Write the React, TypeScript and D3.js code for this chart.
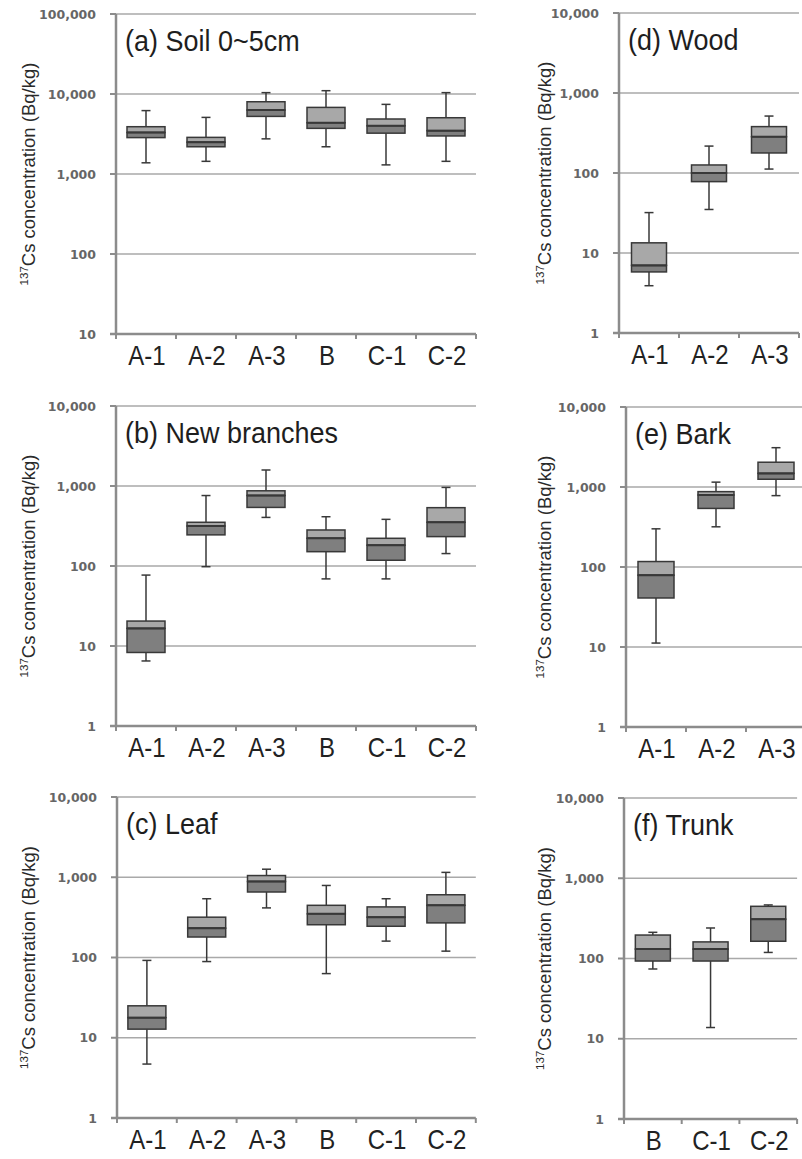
import * as d3 from "d3";

// five-number summaries: [min, q1, median, q3, max]
type Stat = [number, number, number, number, number];

const siteCats = ["A-1", "A-2", "A-3", "B", "C-1", "C-2"];
const woodCats = ["A-1", "A-2", "A-3"];
const trunkCats = ["B", "C-1", "C-2"];

const soil: Stat[] = [
  [1380, 2850, 3300, 3900, 6200],
  [1440, 2190, 2500, 2870, 5100],
  [2750, 5250, 6300, 8000, 10400],
  [2190, 3720, 4370, 6800, 11000],
  [1300, 3240, 4000, 4870, 7420],
  [1440, 2990, 3480, 5050, 10400],
];

const branches: Stat[] = [
  [6.5, 8.3, 16.6, 20.5, 77],
  [98, 245, 316, 352, 760],
  [405, 540, 760, 871, 1585],
  [69, 151, 222, 282, 413],
  [69, 118, 182, 222, 383],
  [143, 233, 352, 536, 960],
];

const leaf: Stat[] = [
  [4.7, 12.8, 17.8, 25, 92],
  [89, 180, 232, 318, 540],
  [415, 655, 885, 1050, 1260],
  [63, 256, 350, 447, 790],
  [160, 245, 318, 427, 540],
  [120, 270, 447, 605, 1150],
];

const wood: Stat[] = [
  [3.9, 5.8, 7.0, 13.4, 32],
  [35, 78, 100, 126, 217],
  [112, 178, 284, 380, 515],
];

const bark: Stat[] = [
  [11.2, 41, 79, 117, 300],
  [318, 540, 794, 875, 1150],
  [780, 1250, 1480, 2040, 3100],
];

const trunk: Stat[] = [
  [74, 93, 131, 196, 212],
  [13.8, 93, 131, 161, 240],
  [119, 164, 309, 447, 465],
];

const soilTicks = [10, 100, 1000, 10000, 100000];
const tissueTicks = [1, 10, 100, 1000, 10000];

type Panel = {
  title: string;
  cats: string[];
  data: Stat[];
  ticks: number[];
  x0: number;
  catW: number;
  boxW: number;
  top: number;
  bottom: number;
  labelX: number;
};

const panels: Panel[] = [
  { title: "(a) Soil 0~5cm", cats: siteCats, data: soil, ticks: soilTicks, x0: 116, catW: 60, boxW: 38, top: 14, bottom: 334, labelX: 35 },
  { title: "(b) New branches", cats: siteCats, data: branches, ticks: tissueTicks, x0: 116, catW: 60, boxW: 38, top: 406, bottom: 726, labelX: 35 },
  { title: "(c) Leaf", cats: siteCats, data: leaf, ticks: tissueTicks, x0: 117, catW: 59.8, boxW: 38, top: 797, bottom: 1118, labelX: 35 },
  { title: "(d) Wood", cats: woodCats, data: wood, ticks: tissueTicks, x0: 619, catW: 60, boxW: 35, top: 13, bottom: 333, labelX: 551 },
  { title: "(e) Bark", cats: woodCats, data: bark, ticks: tissueTicks, x0: 626, catW: 60, boxW: 36, top: 407, bottom: 727, labelX: 551 },
  { title: "(f) Trunk", cats: trunkCats, data: trunk, ticks: tissueTicks, x0: 624, catW: 57.7, boxW: 35, top: 798, bottom: 1119, labelX: 551 },
];

const gridColor = "#a9a9a9";
const axisColor = "#8c8c8c";
const boxStroke = "#383838";
const upperFill = "#a8a8a8";
const lowerFill = "#7f7f7f";
const fmt = d3.format(",");

const BoxPanel = ({ p }: { p: Panel }) => {
  const x = d3
    .scaleBand<string>()
    .domain(p.cats)
    .range([p.x0, p.x0 + p.cats.length * p.catW]);
  const y = d3
    .scaleLog()
    .domain([p.ticks[0], p.ticks[p.ticks.length - 1]])
    .range([p.bottom, p.top]);
  const right = p.x0 + p.cats.length * p.catW;
  const midY = (p.top + p.bottom) / 2;

  return (
    <g>
      {/* gridlines and y ticks */}
      {p.ticks.map((t) => (
        <g key={t}>
          {t !== p.ticks[0] && (
            <line x1={p.x0} x2={right} y1={y(t)} y2={y(t)} stroke={gridColor} strokeWidth={1.5} />
          )}
          <line x1={p.x0 - 6} x2={p.x0} y1={y(t)} y2={y(t)} stroke={axisColor} strokeWidth={2} />
          <text
            x={p.x0 - 20}
            y={y(t)}
            dy="0.36em"
            textAnchor="end"
            fontFamily="DejaVu Sans, Verdana, sans-serif"
            fontWeight="bold"
            fontSize={12.5}
            fill="#666"
          >
            {fmt(t)}
          </text>
        </g>
      ))}

      {/* axes */}
      <line x1={p.x0} x2={p.x0} y1={p.top} y2={p.bottom} stroke={axisColor} strokeWidth={2.5} />
      <line x1={p.x0 - 6} x2={right} y1={p.bottom} y2={p.bottom} stroke={axisColor} strokeWidth={2.5} />
      {d3.range(p.cats.length + 1).map((i) => (
        <line
          key={i}
          x1={p.x0 + i * p.catW}
          x2={p.x0 + i * p.catW}
          y1={p.bottom}
          y2={p.bottom + 5}
          stroke={axisColor}
          strokeWidth={2}
        />
      ))}

      {/* boxes */}
      {p.data.map(([mn, q1, md, q3, mx], i) => {
        const cx = (x(p.cats[i]) ?? 0) + x.bandwidth() / 2;
        const bx = cx - p.boxW / 2;
        return (
          <g key={p.cats[i]}>
            <line x1={cx} x2={cx} y1={y(mx)} y2={y(q3)} stroke={boxStroke} strokeWidth={1.5} />
            <line x1={cx} x2={cx} y1={y(q1)} y2={y(mn)} stroke={boxStroke} strokeWidth={1.5} />
            <line x1={cx - 4.5} x2={cx + 4.5} y1={y(mx)} y2={y(mx)} stroke={boxStroke} strokeWidth={1.5} />
            <line x1={cx - 4.5} x2={cx + 4.5} y1={y(mn)} y2={y(mn)} stroke={boxStroke} strokeWidth={1.5} />
            <rect x={bx} y={y(q3)} width={p.boxW} height={y(md) - y(q3)} fill={upperFill} stroke={boxStroke} strokeWidth={1.5} />
            <rect x={bx} y={y(md)} width={p.boxW} height={y(q1) - y(md)} fill={lowerFill} stroke={boxStroke} strokeWidth={1.5} />
            <line x1={bx} x2={bx + p.boxW} y1={y(md)} y2={y(md)} stroke={boxStroke} strokeWidth={2} />
          </g>
        );
      })}

      {/* category labels */}
      {p.cats.map((c) => (
        <text
          key={c}
          transform={`translate(${(x(c) ?? 0) + x.bandwidth() / 2 + 1}, ${p.bottom + 31}) scale(1, 1.15)`}
          textAnchor="middle"
          fontFamily="Liberation Sans, Arial, sans-serif"
          fontSize={24}
          fill="#222"
        >
          {c}
        </text>
      ))}

      {/* panel title */}
      <text
        transform={`translate(${p.x0 + 9}, ${p.top + 37}) scale(1, 1.12)`}
        fontFamily="Liberation Sans, Arial, sans-serif"
        fontSize={27}
        fill="#1e1e1e"
      >
        {p.title}
      </text>

      {/* y axis title */}
      <text
        transform={`translate(${p.labelX}, ${midY}) rotate(-90)`}
        textAnchor="middle"
        fontFamily="Liberation Sans, Arial, sans-serif"
        fontSize={18.5}
        fill="#2a2a2a"
      >
        <tspan fontSize={11.5} dy={-7.5}>137</tspan>
        <tspan dy={7.5}>Cs concentration (Bq/kg)</tspan>
      </text>
    </g>
  );
};

const App = () => {
  const width = 802;
  const height = 1159;
  return (
    <svg
      width={width}
      height={height}
      viewBox={`0 0 ${width} ${height}`}
      style={{ position: "absolute", left: 0, top: 0, background: "#fff" }}
      role="img"
      aria-label="137Cs concentration box plots"
    >
      <rect width={width} height={height} fill="#fff" />
      {panels.map((p) => (
        <BoxPanel key={p.title} p={p} />
      ))}
    </svg>
  );
};

export default App;
